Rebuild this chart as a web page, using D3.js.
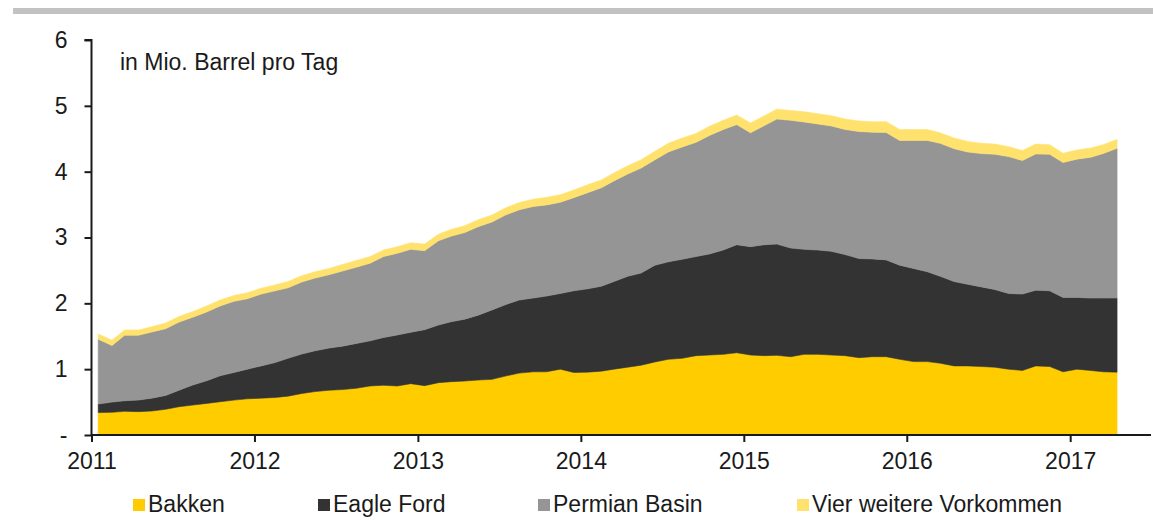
<!DOCTYPE html>
<html>
<head>
<meta charset="utf-8">
<script src="https://cdn.jsdelivr.net/npm/d3@7"></script>
<style>
  html, body { margin: 0; padding: 0; background: #fff; }
  svg { display: block; font-family: "Liberation Sans", Arial, sans-serif; }
</style>
</head>
<body>
<svg id="chart" width="1153" height="520"></svg>
<script>
// ---- Data (Mio. Barrel pro Tag), monthly Jan 2011 – Apr 2017 ----
const seriesNames = ["Bakken", "Eagle Ford", "Permian Basin", "Vier weitere Vorkommen"];
const seriesColors = ["#FFCC00", "#333333", "#959595", "#FFE26E"];
const yTickValues = [0, 1, 2, 3, 4, 5, 6];
const yTickLabels = ["-", "1", "2", "3", "4", "5", "6"];
const xTickYears = [2011, 2012, 2013, 2014, 2015, 2016, 2017];
const titleText = "in Mio. Barrel pro Tag";

const bakken = [
  0.34, 0.345, 0.36, 0.355, 0.365, 0.39, 0.43, 0.455, 0.48, 0.505, 0.53, 0.55,
  0.56, 0.57, 0.59, 0.63, 0.66, 0.68, 0.69, 0.71, 0.745, 0.755, 0.745, 0.78,
  0.75, 0.795, 0.81, 0.82, 0.835, 0.845, 0.895, 0.94, 0.96, 0.96, 1.00, 0.95,
  0.955, 0.97, 1.00, 1.03, 1.06, 1.11, 1.15, 1.165, 1.205, 1.215, 1.225, 1.25,
  1.215, 1.205, 1.21, 1.19, 1.225, 1.225, 1.215, 1.205, 1.175, 1.19, 1.19, 1.15,
  1.115, 1.115, 1.09, 1.05, 1.05, 1.04, 1.03, 1.00, 0.98, 1.05, 1.04, 0.96,
  1.00, 0.98, 0.96, 0.955
];
const eagleFord = [
  0.13, 0.155, 0.16, 0.175, 0.195, 0.21, 0.25, 0.305, 0.345, 0.395, 0.42, 0.45,
  0.49, 0.53, 0.575, 0.60, 0.62, 0.64, 0.66, 0.68, 0.685, 0.725, 0.775, 0.78,
  0.85, 0.875, 0.91, 0.94, 0.985, 1.055, 1.085, 1.11, 1.12, 1.15, 1.15, 1.24,
  1.265, 1.29, 1.33, 1.38, 1.40, 1.47, 1.48, 1.505, 1.505, 1.535, 1.585, 1.64,
  1.645, 1.685, 1.69, 1.65, 1.595, 1.585, 1.575, 1.535, 1.505, 1.485, 1.47, 1.43,
  1.415, 1.365, 1.32, 1.28, 1.24, 1.21, 1.18, 1.15, 1.16, 1.15, 1.15, 1.13,
  1.09, 1.10, 1.12, 1.125
];
const permian = [
  0.985, 0.86, 0.995, 0.985, 1.005, 1.015, 1.035, 1.03, 1.045, 1.06, 1.08, 1.07,
  1.09, 1.09, 1.07, 1.095, 1.105, 1.115, 1.14, 1.16, 1.18, 1.23, 1.24, 1.26,
  1.20, 1.28, 1.30, 1.315, 1.345, 1.335, 1.36, 1.37, 1.39, 1.385, 1.385, 1.415,
  1.46, 1.495, 1.53, 1.555, 1.595, 1.60, 1.67, 1.705, 1.735, 1.80, 1.83, 1.825,
  1.73, 1.81, 1.90, 1.94, 1.935, 1.915, 1.905, 1.90, 1.93, 1.925, 1.935, 1.895,
  1.945, 1.995, 2.02, 2.02, 2.01, 2.025, 2.055, 2.08, 2.03, 2.07, 2.075, 2.05,
  2.10, 2.14, 2.195, 2.275
];
const vierWeitere = [
  0.08, 0.08, 0.08, 0.08, 0.08, 0.085, 0.085, 0.085, 0.09, 0.09, 0.09, 0.09,
  0.09, 0.09, 0.095, 0.095, 0.095, 0.095, 0.10, 0.10, 0.10, 0.10, 0.10, 0.10,
  0.10, 0.10, 0.10, 0.105, 0.105, 0.105, 0.11, 0.11, 0.11, 0.115, 0.115, 0.115,
  0.12, 0.12, 0.12, 0.125, 0.125, 0.13, 0.13, 0.135, 0.135, 0.14, 0.14, 0.145,
  0.15, 0.15, 0.15, 0.15, 0.155, 0.155, 0.155, 0.16, 0.16, 0.16, 0.165, 0.165,
  0.165, 0.165, 0.16, 0.16, 0.16, 0.155, 0.155, 0.15, 0.15, 0.15, 0.145, 0.14,
  0.14, 0.14, 0.135, 0.135
];

// month categories (mid-month points)
const months = d3.range(bakken.length).map(i => new Date(2011, i, 16));

const table = months.map((d, i) => ({
  date: d,
  "Bakken": bakken[i],
  "Eagle Ford": eagleFord[i],
  "Permian Basin": permian[i],
  "Vier weitere Vorkommen": vierWeitere[i]
}));

// ---- Layout ----
const svg = d3.select("#chart");
const x0 = 91.5, x1 = 1151, yTop = 40, yBottom = 435;
const fontSize = "23px";

const x = d3.scaleTime()
  .domain([new Date(2011, 0, 1), new Date(2017, 6, 1)])
  .range([x0, x1]);
const y = d3.scaleLinear().domain([0, 6]).range([yBottom, yTop]);

// top grey rule
svg.append("rect").attr("x", 13).attr("y", 8).attr("width", 1140).attr("height", 6)
  .attr("fill", "#c2c2c2");

// stacked areas
const stack = d3.stack().keys(seriesNames);
const layers = stack(table);
const area = d3.area()
  .x(d => x(d.data.date))
  .y0(d => y(d[0]))
  .y1(d => y(d[1]));

svg.append("g").selectAll("path")
  .data(layers)
  .join("path")
  .attr("d", area)
  .attr("fill", (d, i) => seriesColors[i])
  .attr("stroke", (d, i) => seriesColors[i])
  .attr("stroke-width", 0.6);

// axes
const axisColor = "#1a1a1a";
const yAxis = d3.axisLeft(y)
  .tickValues(yTickValues)
  .tickFormat((d, i) => yTickLabels[i])
  .tickSize(7)
  .tickPadding(17);
const gy = svg.append("g").attr("transform", `translate(${x0},0)`).call(yAxis);
gy.select(".domain").attr("stroke", axisColor).attr("stroke-width", 2)
  .attr("d", `M-7,${yTop}H0V${yBottom}`);
gy.selectAll(".tick line").attr("stroke", axisColor).attr("stroke-width", 2);
gy.selectAll(".tick text").attr("fill", axisColor)
  .style("font-size", fontSize).style("font-family", "'Liberation Sans', Arial, sans-serif");

const xAxis = d3.axisBottom(x)
  .tickValues(xTickYears.map(yr => new Date(yr, 0, 1)))
  .tickFormat(d3.timeFormat("%Y"))
  .tickSize(7)
  .tickPadding(11);
const gx = svg.append("g").attr("transform", `translate(0,${yBottom})`).call(xAxis);
gx.select(".domain").attr("stroke", axisColor).attr("stroke-width", 2)
  .attr("d", `M${x0},0H${x1}`);
gx.selectAll(".tick line").attr("stroke", axisColor).attr("stroke-width", 2);
gx.selectAll(".tick text").attr("fill", axisColor)
  .style("font-size", fontSize).style("font-family", "'Liberation Sans', Arial, sans-serif");

// unit label
svg.append("text").attr("x", 120).attr("y", 70)
  .attr("fill", axisColor)
  .style("font-size", fontSize)
  .text(titleText);

// legend
const legendX = [133, 318, 538, 797];
const legend = svg.append("g");
seriesNames.forEach((name, i) => {
  const g = legend.append("g").attr("transform", `translate(${legendX[i]},0)`);
  g.append("rect").attr("x", 0).attr("y", 499).attr("width", 12).attr("height", 12)
    .attr("fill", seriesColors[i]);
  g.append("text").attr("x", 15).attr("y", 512)
    .attr("fill", axisColor)
    .style("font-size", fontSize)
    .text(name);
});
</script>
</body>
</html>
